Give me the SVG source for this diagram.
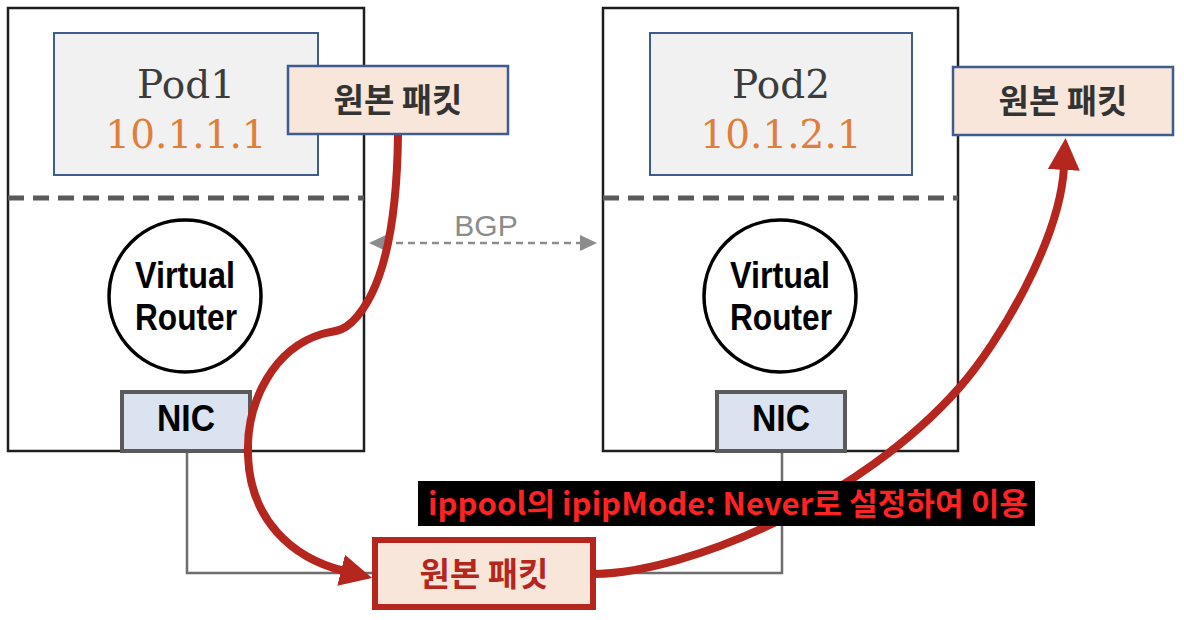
<svg xmlns="http://www.w3.org/2000/svg" width="1184" height="620" viewBox="0 0 1184 620">
<style>
.host{fill:#fff;stroke:#1e1e1e;stroke-width:2.5}
.sep{stroke:#5a5a5a;stroke-width:5;stroke-dasharray:16 9;fill:none}
.pod{fill:#f1f1f1;stroke:#3e5c8e;stroke-width:2}
.podname{font-family:"DejaVu Serif",serif;font-size:39px;fill:#3c3c3c;text-anchor:middle}
.podip{font-family:"DejaVu Serif",serif;font-size:39px;fill:#e07e3c;text-anchor:middle}
.pkt{fill:#f9e6da;stroke:#3e5c8e;stroke-width:2.5}
.pktred{fill:#f9e6da;stroke:#b5261e;stroke-width:6}
.ko{font-family:"Noto Sans CJK KR",sans-serif;font-weight:bold;font-size:33px;text-anchor:middle}
.router{fill:#fff;stroke:#000;stroke-width:3.5}
.rt{font-family:"Liberation Sans",Arial,sans-serif;font-weight:bold;font-size:37px;fill:#000;text-anchor:middle}
.nic{fill:#dbe2f0;stroke:#5a5a5a;stroke-width:4}
.wire{fill:none;stroke:#6e6e6e;stroke-width:2.5}
.bgp{fill:none;stroke:#8c8c8c;stroke-width:2.5;stroke-dasharray:7 5}
.flow{fill:none;stroke:#b5261e;stroke-width:8;stroke-linecap:butt}
</style>
<defs>
<marker id="redhead" markerUnits="userSpaceOnUse" markerWidth="34" markerHeight="34" viewBox="0 0 34 34" refX="3" refY="17" orient="auto">
<path d="M0,1 L32,17 L0,33 z" fill="#b5261e"/>
</marker>
<marker id="grayhead" markerUnits="userSpaceOnUse" markerWidth="18" markerHeight="18" viewBox="0 0 18 18" refX="2" refY="9" orient="auto-start-reverse">
<path d="M0,1 L17,9 L0,17 z" fill="#8c8c8c"/>
</marker>
</defs>
<rect width="1184" height="620" fill="#fff"/>

<g id="host1">
<rect class="host" x="8" y="8" width="356" height="443"/>
<line class="sep" x1="8" y1="198" x2="364" y2="198"/>
</g>
<g id="host2">
<rect class="host" x="603" y="8" width="355" height="443"/>
<line class="sep" x1="603" y1="198" x2="958" y2="198"/>
</g>

<g id="pod1">
<rect class="pod" x="54" y="33" width="264" height="142"/>
<text class="podname" x="186" y="98">Pod1</text>
<text class="podip" x="186" y="148">10.1.1.1</text>
</g>
<g id="pod2">
<rect class="pod" x="650" y="33" width="262" height="142"/>
<text class="podname" x="781" y="98">Pod2</text>
<text class="podip" x="781" y="148">10.1.2.1</text>
</g>

<g id="packet1">
<rect class="pkt" x="288" y="66" width="220" height="68"/>
<text class="ko" x="398" y="112" fill="#333">원본 패킷</text>
</g>
<g id="packet2">
<rect class="pkt" x="953" y="67" width="220" height="68"/>
<text class="ko" x="1063" y="113" fill="#333">원본 패킷</text>
</g>

<g id="router1">
<circle class="router" cx="185" cy="296" r="76"/>
<text class="rt" x="185" y="288" textLength="100" lengthAdjust="spacingAndGlyphs">Virtual</text>
<text class="rt" x="186" y="330" textLength="102" lengthAdjust="spacingAndGlyphs">Router</text>
</g>
<g id="router2">
<circle class="router" cx="780" cy="296" r="76"/>
<text class="rt" x="780" y="288" textLength="100" lengthAdjust="spacingAndGlyphs">Virtual</text>
<text class="rt" x="781" y="330" textLength="102" lengthAdjust="spacingAndGlyphs">Router</text>
</g>

<g id="nic1">
<rect class="nic" x="122" y="392" width="128" height="59"/>
<text class="rt" x="186" y="431" font-size="35" textLength="58" lengthAdjust="spacingAndGlyphs">NIC</text>
</g>
<g id="nic2">
<rect class="nic" x="717" y="392" width="128" height="59"/>
<text class="rt" x="781" y="431" font-size="35" textLength="58" lengthAdjust="spacingAndGlyphs">NIC</text>
</g>

<g id="connectors">
<polyline class="wire" points="187,453 187,573 372,573"/>
<polyline class="wire" points="782,453 782,573 595,573"/>
<text x="486" y="236" font-family="'Liberation Sans',Arial,sans-serif" font-size="30" fill="#8c8c8c" text-anchor="middle">BGP</text>
<line class="bgp" x1="384" y1="243" x2="582" y2="243" marker-start="url(#grayhead)" marker-end="url(#grayhead)"/>
<path class="flow" d="M398,135 C397,220 385,290 352,322 C340,333 335,330 322,334 C275,348 246,400 248,455 C250,520 292,558 344,571" marker-end="url(#redhead)"/>
<path class="flow" d="M595,574 C690,572 860,500 959,388 C999,343 1060,240 1064,167" marker-end="url(#redhead)"/>
</g>

<g id="packet3">
<rect class="pktred" x="375" y="540" width="218" height="67"/>
<text class="ko" x="484" y="586" fill="#b5261e">원본 패킷</text>
</g>

<g id="note">
<rect x="418" y="481" width="617" height="45" fill="#000"/>
<text x="428" y="515" font-family="'Noto Sans CJK KR',sans-serif" font-weight="bold" font-size="31" fill="#ff2222" textLength="600" lengthAdjust="spacingAndGlyphs">ippool의 ipipMode: Never로 설정하여 이용</text>
</g>
</svg>
